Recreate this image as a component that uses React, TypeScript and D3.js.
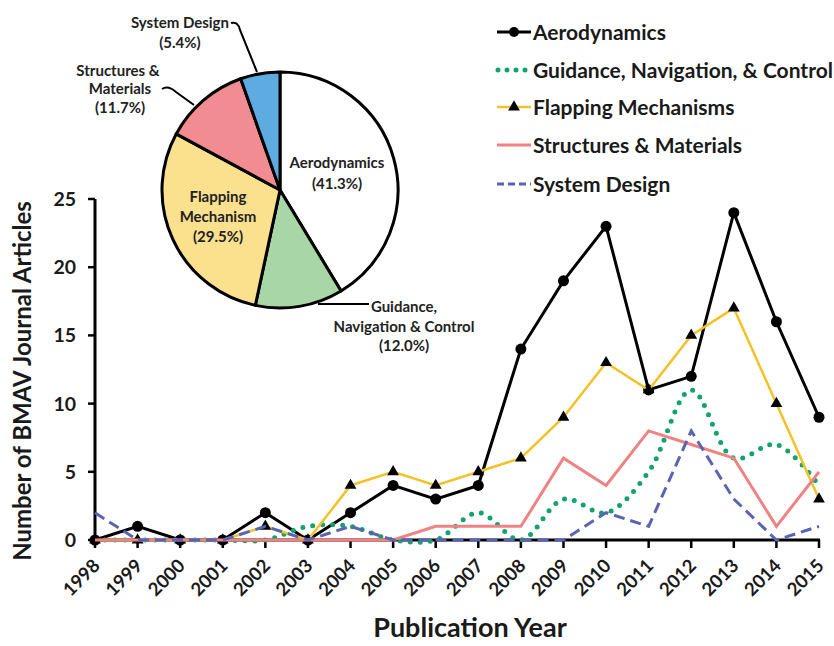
import React from "react";
import * as d3 from "d3";

const years = [1998, 1999, 2000, 2001, 2002, 2003, 2004, 2005, 2006, 2007, 2008, 2009, 2010, 2011, 2012, 2013, 2014, 2015];
const aerodynamics = [0, 1, 0, 0, 2, 0, 2, 4, 3, 4, 14, 19, 23, 11, 12, 24, 16, 9];
const guidance = [0, 0, 0, 0, 0, 1, 1, 0, 0, 2, 0, 3, 2, 5, 11, 6, 7, 4];
const flapping = [0, 0, 0, 0, 1, 0, 4, 5, 4, 5, 6, 9, 13, 11, 15, 17, 10, 3];
const structures = [0, 0, 0, 0, 0, 0, 0, 0, 1, 1, 1, 6, 4, 8, 7, 6, 1, 5];
const systemDesign = [2, 0, 0, 0, 1, 0, 1, 0, 0, 0, 0, 0, 2, 1, 8, 3, 0, 1];
const yTicks = [0, 5, 10, 15, 20, 25];

const pieLabels = ["Aerodynamics", "Guidance, Navigation & Control", "Flapping Mechanism", "Structures & Materials", "System Design"];
const pieShares = [41.3, 12.0, 29.5, 11.7, 5.4];
const pieColors = ["#ffffff", "#a9d6a6", "#fbe08e", "#f28c93", "#5dabe0"];

const legendNames = ["Aerodynamics", "Guidance, Navigation, & Control", "Flapping Mechanisms", "Structures & Materials", "System Design"];

const FONT = "Lato, 'Open Sans', sans-serif";

export default function App() {
  const x = d3.scaleLinear().domain([1998, 2015]).range([95, 819]);
  const y = d3.scaleLinear().domain([0, 25]).range([540, 199]);

  const lineLin = d3.line<number>().x((_, i) => x(years[i])).y((d) => y(d));
  const lineSmooth = d3.line<number>().x((_, i) => x(years[i])).y((d) => y(d)).curve(d3.curveCatmullRom.alpha(0.5));

  const pie = d3.pie<number>().sort(null).value((d) => d)(pieShares);
  const arc = d3.arc<d3.PieArcDatum<number>>().innerRadius(0).outerRadius(118);
  const cx = 280, cy = 190;

  const tri = d3.symbol().type(d3.symbolTriangle).size(60)() as string;

  const legendY = [32, 70, 107, 145, 184];

  return (
    <svg width={834} height={646} style={{ display: "block", position: "absolute", left: 0, top: 0, background: "#fff" }} fontFamily={FONT}>
      <rect width={834} height={646} fill="#fff" />
      {/* axes */}
      <line x1={95} x2={95} y1={y(25)} y2={y(0)} stroke="#000" strokeWidth={3} />
      <line x1={93.5} x2={x(2015) + 1} y1={y(0)} y2={y(0)} stroke="#000" strokeWidth={3} />
      {yTicks.map((t) => (
        <g key={t}>
          <line x1={88} x2={95} y1={y(t)} y2={y(t)} stroke="#000" strokeWidth={2.5} />
          <text x={76} y={y(t)} dy="0.36em" textAnchor="end" fontSize={19.5} fontWeight={700} fill="#1a1a1a">{t}</text>
        </g>
      ))}
      {years.map((yr) => (
        <g key={yr}>
          <line x1={x(yr)} x2={x(yr)} y1={y(0)} y2={y(0) + 8} stroke="#000" strokeWidth={2.5} />
          <text transform={`translate(${x(yr) + 6},${y(0) + 27}) rotate(-45)`} textAnchor="end" fontSize={18.5} fontWeight={700} fill="#1a1a1a">{yr}</text>
        </g>
      ))}
      <text transform={`translate(31,381) rotate(-90)`} textAnchor="middle" fontSize={24} fontWeight={700} fill="#1a1a1a">Number of BMAV Journal Articles</text>
      <text x={470} y={637} textAnchor="middle" fontSize={27} fontWeight={700} fill="#1a1a1a">Publication Year</text>

      {/* series */}
      <path d={lineLin(aerodynamics) as string} fill="none" stroke="#000" strokeWidth={3} />
      {aerodynamics.map((v, i) => (
        <circle key={i} cx={x(years[i])} cy={y(v)} r={5.5} fill="#000" />
      ))}
      <path d={lineSmooth(guidance) as string} fill="none" stroke="#12a36c" strokeWidth={5} strokeLinecap="round" strokeDasharray="0 10" />
      <path d={lineLin(flapping) as string} fill="none" stroke="#f3c229" strokeWidth={2.5} />
      {flapping.map((v, i) => (
        <path key={i} d={tri} transform={`translate(${x(years[i])},${y(v)})`} fill="#000" />
      ))}
      <path d={lineLin(structures) as string} fill="none" stroke="#f08283" strokeWidth={3} />
      <path d={lineLin(systemDesign) as string} fill="none" stroke="#5b63b3" strokeWidth={3} strokeDasharray="11 6" />

      {/* legend */}
      {legendNames.map((n, i) => {
        const ly = legendY[i];
        return (
          <g key={n}>
            {i === 0 && (
              <g>
                <line x1={497} x2={531} y1={ly} y2={ly} stroke="#000" strokeWidth={3} />
                <circle cx={514} cy={ly} r={5} fill="#000" />
              </g>
            )}
            {i === 1 && <line x1={498} x2={531} y1={ly} y2={ly} stroke="#12a36c" strokeWidth={5} strokeLinecap="round" strokeDasharray="0 9" />}
            {i === 2 && (
              <g>
                <line x1={497} x2={531} y1={ly} y2={ly} stroke="#f3c229" strokeWidth={2.5} />
                <path d={tri} transform={`translate(514,${ly})`} fill="#000" />
              </g>
            )}
            {i === 3 && <line x1={497} x2={531} y1={ly} y2={ly} stroke="#f08283" strokeWidth={3} />}
            {i === 4 && <line x1={497} x2={531} y1={ly} y2={ly} stroke="#5b63b3" strokeWidth={3} strokeDasharray="7 4" />}
            <text x={533} y={ly} dy="0.36em" fontSize={21} fontWeight={700} fill="#1a1a1a">{n}</text>
          </g>
        );
      })}

      {/* pie */}
      <g transform={`translate(${cx},${cy})`}>
        {pie.map((p, i) => (
          <path key={i} d={arc(p) as string} fill={pieColors[i]} stroke="#000" strokeWidth={3} strokeLinejoin="round" />
        ))}
      </g>
      <g fontSize={15} fontWeight={700} fill="#222" textAnchor="middle">
        <text x={337} y={168}>{pieLabels[0].slice(0, 12)}</text>
        <text x={337} y={189}>({pieShares[0].toFixed(1)}%)</text>
        <text x={218} y={202}>Flapping</text>
        <text x={218} y={222}>Mechanism</text>
        <text x={218} y={242}>({pieShares[2].toFixed(1)}%)</text>
        <text x={404} y={312}>Guidance,</text>
        <text x={404} y={332}>Navigation &amp; Control</text>
        <text x={404} y={351}>({pieShares[1].toFixed(1)}%)</text>
        <text x={180} y={28}>System Design</text>
        <text x={180} y={48}>({pieShares[4].toFixed(1)}%)</text>
        <text x={118} y={76}>Structures &amp;</text>
        <text x={120} y={94}>Materials</text>
        <text x={120} y={113}>({pieShares[3].toFixed(1)}%)</text>
      </g>
      <g fill="none" stroke="#000" strokeWidth={2}>
        <path d="M231,23 Q238,21 240,30 L257,72" />
        <path d="M162,89 Q168,85 176,92 L194,105" />
        <path d="M318,304 L369,304" />
      </g>
    </svg>
  );
}
